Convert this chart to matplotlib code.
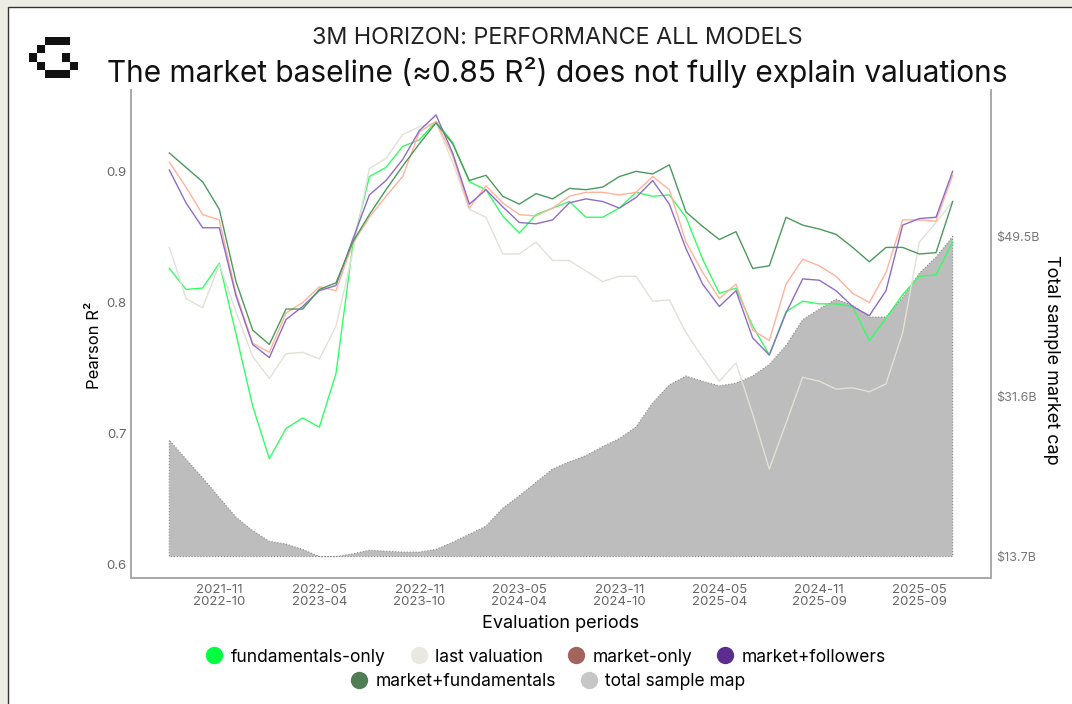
import matplotlib
matplotlib.use("Agg")
import matplotlib.pyplot as plt
import numpy as np
import pandas as pd
from matplotlib.lines import Line2D
from matplotlib.patches import Rectangle

plt.rcParams['font.family'] = ['Inter', 'DejaVu Sans']

# evaluation periods: 12-month windows starting monthly, capped at the last data month
period_start = pd.period_range("2021-08", periods=48, freq="M")
last_month = pd.Period("2025-09", freq="M")

fundamentals_only = [0.826, 0.810, 0.811, 0.830, 0.776, 0.721, 0.681, 0.704, 0.712, 0.705,
                     0.746, 0.843, 0.896, 0.903, 0.919, 0.924, 0.938, 0.922, 0.892, 0.886,
                     0.866, 0.853, 0.867, 0.872, 0.877, 0.865, 0.865, 0.872, 0.884, 0.881,
                     0.882, 0.865, 0.833, 0.807, 0.811, 0.782, 0.760, 0.793, 0.801, 0.799,
                     0.799, 0.797, 0.771, 0.788, 0.806, 0.820, 0.821, 0.846]
last_valuation = [0.842, 0.803, 0.796, 0.829, 0.793, 0.759, 0.742, 0.761, 0.762, 0.757,
                  0.782, 0.838, 0.902, 0.910, 0.928, 0.934, 0.937, 0.907, 0.871, 0.865,
                  0.837, 0.837, 0.846, 0.832, 0.832, 0.824, 0.816, 0.820, 0.820, 0.801,
                  0.802, 0.777, 0.758, 0.740, 0.754, 0.715, 0.673, 0.708, 0.743, 0.740,
                  0.734, 0.735, 0.732, 0.738, 0.777, 0.846, 0.861, 0.877]
market_only = [0.907, 0.888, 0.867, 0.863, 0.807, 0.769, 0.762, 0.792, 0.800, 0.812,
               0.809, 0.845, 0.865, 0.881, 0.896, 0.930, 0.938, 0.912, 0.872, 0.889,
               0.876, 0.867, 0.866, 0.872, 0.881, 0.884, 0.884, 0.882, 0.884, 0.896,
               0.886, 0.846, 0.823, 0.803, 0.814, 0.779, 0.771, 0.814, 0.833, 0.828,
               0.820, 0.807, 0.800, 0.823, 0.863, 0.863, 0.862, 0.897]
market_followers = [0.901, 0.876, 0.857, 0.857, 0.805, 0.768, 0.758, 0.787, 0.797, 0.809,
                    0.813, 0.848, 0.882, 0.893, 0.909, 0.931, 0.943, 0.914, 0.875, 0.886,
                    0.873, 0.861, 0.860, 0.863, 0.876, 0.879, 0.877, 0.872, 0.880, 0.893,
                    0.875, 0.841, 0.814, 0.797, 0.809, 0.773, 0.760, 0.792, 0.818, 0.817,
                    0.809, 0.797, 0.790, 0.809, 0.859, 0.864, 0.865, 0.900]
market_fundamentals = [0.914, 0.903, 0.892, 0.871, 0.816, 0.779, 0.768, 0.795, 0.795, 0.810,
                       0.815, 0.846, 0.867, 0.886, 0.904, 0.921, 0.937, 0.921, 0.893, 0.897,
                       0.881, 0.875, 0.883, 0.879, 0.887, 0.886, 0.888, 0.896, 0.900, 0.898,
                       0.905, 0.869, 0.858, 0.848, 0.854, 0.826, 0.828, 0.865, 0.859, 0.856,
                       0.852, 0.842, 0.831, 0.842, 0.842, 0.837, 0.838, 0.877]
total_cap = [26.7, 24.6, 22.5, 20.3, 18.1, 16.6, 15.4, 15.1, 14.5, 13.7,
             13.7, 14.0, 14.4, 14.3, 14.2, 14.2, 14.5, 15.3, 16.2, 17.1,
             19.1, 20.5, 22.0, 23.5, 24.3, 25.0, 26.0, 26.9, 28.2, 30.9,
             32.9, 33.9, 33.3, 32.8, 33.1, 33.9, 35.2, 37.3, 40.2, 41.4,
             42.5, 41.8, 40.5, 40.5, 42.7, 45.4, 47.2, 49.5]

series = [
    ("fundamentals-only", fundamentals_only, "#33ff63", "#00ff40"),
    ("last valuation", last_valuation, "#e2e0d8", "#e9e9e1"),
    ("market-only", market_only, "#ffb29c", "#a3645e"),
    ("market+followers", market_followers, "#8e6cc6", "#5a2d8e"),
    ("market+fundamentals", market_fundamentals, "#4c9a5c", "#4f7d56"),
]
area_color = "#bdbdbd"
area_legend = "#c6c6c6"

W, H = 1072, 704
fig = plt.figure(figsize=(W / 100, H / 100), dpi=100, facecolor="#edece5")
fig.add_artist(Rectangle((8 / W, -0.1), 1.2, (H - 7) / H + 0.1, transform=fig.transFigure,
                         facecolor="white", edgecolor="#333333", linewidth=1.0, zorder=-10))

# pixel logo
logo_cells = [(0, 2), (0, 3), (0, 4), (1, 1), (2, 0), (2, 4), (3, 1), (3, 5),
              (4, 2), (4, 3), (4, 4)]
cell = 8.2
for r, c in logo_cells:
    fig.add_artist(Rectangle(((29 + c * cell) / W, 1 - (37 + (r + 1) * cell) / H),
                             cell / W, cell / H, transform=fig.transFigure,
                             facecolor="#111111", edgecolor="none"))

ax = fig.add_axes([131 / W, (H - 578) / H, (991 - 131) / W, (578 - 90) / H])
ax2 = ax.twinx()
ax.set_zorder(ax2.get_zorder() + 1)
ax.patch.set_visible(False)

x = np.arange(len(period_start))
cap_min, cap_max = min(total_cap), max(total_cap)
ax2.fill_between(x, cap_min, total_cap, facecolor=area_color, edgecolor="#8a8a8a",
                 linestyle=":", linewidth=0.8)
ax2.set_ylim(11.3, 65.9)
ax2.set_yticks([cap_min, (cap_min + cap_max) / 2, cap_max])
ax2.set_yticklabels([f"${v:.1f}B" for v in ax2.get_yticks()])
ax2.tick_params(axis="y", length=0, pad=4, labelsize=9, labelcolor="#777777")
ax2.set_ylabel("Total sample market cap", rotation=270, fontsize=13, va="center")
ax2.yaxis.set_label_coords(1.07, 0.447)

for name, vals, lc, _ in series:
    ax.plot(x, vals, color=lc, linewidth=1.0)

ax.set_xlim(-2.3, len(x) - 1 + 2.3)
ax.set_ylim(0.59, 0.962)
ax.set_yticks([0.6, 0.7, 0.8, 0.9])
ax.tick_params(axis="y", length=0, pad=3, labelsize=9.5, labelcolor="#666666")
ax.set_ylabel("Pearson R²", fontsize=12, va="center")
ax.yaxis.set_label_coords(-0.042, 0.477)

ticks = x[3::6]
labels = [f"{period_start[i].strftime('%Y-%m')}\n{min(period_start[i] + 11, last_month).strftime('%Y-%m')}"
          for i in ticks]
ax.set_xticks(ticks)
ax.set_xticklabels(labels, fontsize=9.5, color="#666666", linespacing=1.0)
ax.tick_params(axis="x", length=0, pad=4)
ax.set_xlabel("Evaluation periods", fontsize=13, labelpad=5)

for a in (ax, ax2):
    a.spines["top"].set_visible(False)
    for side in ("left", "right", "bottom"):
        a.spines[side].set_color("#aaaaaa")
        a.spines[side].set_linewidth(1.3)

fig.text(557 / W, 1 - 38 / H, "3M HORIZON: PERFORMANCE ALL MODELS", ha="center", va="center",
         fontsize=16.8, color="#222222")
fig.text(557 / W, 1 - 73 / H, "The market baseline (≈0.85 R²) does not fully explain valuations",
         ha="center", va="center", fontsize=21.5, color="#111111")

def handle(color):
    return Line2D([], [], marker="o", linestyle="none", markersize=12.5,
                  markerfacecolor=color, markeredgecolor="none")

row1 = [(handle(lg), name) for name, _, _, lg in series[:4]]
row2 = [(handle(series[4][3]), series[4][0]), (handle(area_legend), "total sample map")]
fig.legend([h for h, _ in row1], [n for _, n in row1], loc="center", ncol=4,
           bbox_to_anchor=(545 / W, 1 - 657 / H), frameon=False, fontsize=12.5,
           handletextpad=0.35, columnspacing=1.3, handlelength=1.2)
fig.legend([h for h, _ in row2], [n for _, n in row2], loc="center", ncol=2,
           bbox_to_anchor=(547 / W, 1 - 682 / H), frameon=False, fontsize=12.5,
           handletextpad=0.35, columnspacing=1.3, handlelength=1.2)

fig.savefig("out.png", dpi=100, facecolor=fig.get_facecolor())
